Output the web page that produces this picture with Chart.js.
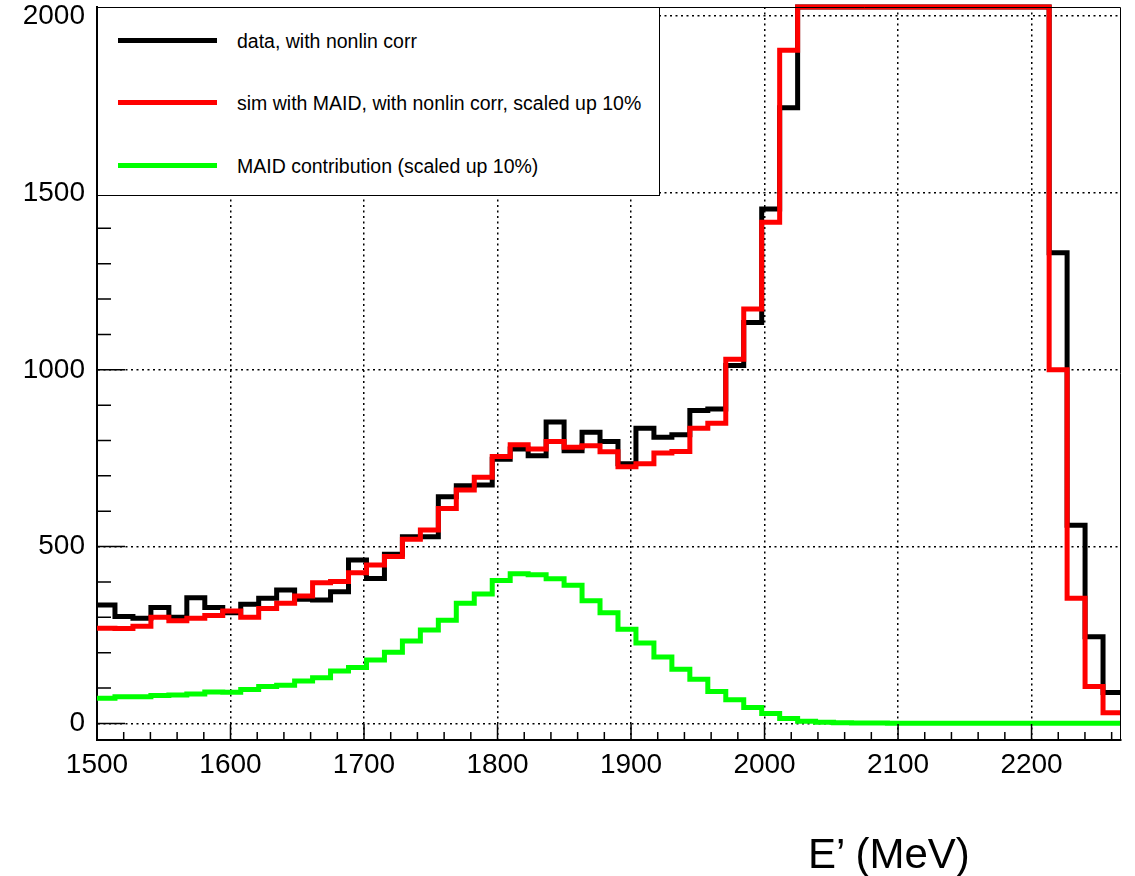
<!DOCTYPE html>
<html lang="en">
<head>
  <meta charset="UTF-8">
  <title>E' spectrum</title>
  <script src="https://cdn.jsdelivr.net/npm/chart.js"></script>
  <style>
    body { margin: 0; background: #fff; font-family: "Liberation Sans", Arial, sans-serif; }
    #wrap { position: relative; width: 1135px; height: 876px; }
    #legend { position: absolute; left: 97px; top: 7px; width: 563px; height: 189px;
              border: 1px solid #000; background: #fff; box-sizing: border-box; }
    .row { position: absolute; left: 0; height: 20px; width: 100%; font-size: 19.5px; line-height: 20px; }
    .row .line { position: absolute; left: 20px; top: 7px; width: 99px; height: 5px; }
    .row .txt { position: absolute; left: 139px; top: 0; white-space: nowrap; }
    #xtitle { position: absolute; left: 808px; top: 830px; font-size: 42px; white-space: nowrap; }
  </style>
</head>
<body>
  <div id="wrap">
    <canvas id="spectrum"></canvas>

    <!-- leyenda estilo ROOT -->
    <div id="legend">
      <div class="row" style="top: 23px;"><span class="line" style="background:#000"></span><span class="txt">data, with nonlin corr</span></div>
      <div class="row" style="top: 85px;"><span class="line" style="background:#ff0000"></span><span class="txt">sim with MAID, with nonlin corr, scaled up 10%</span></div>
      <div class="row" style="top: 148px;"><span class="line" style="background:#00ff00"></span><span class="txt">MAID contribution (scaled up 10%)</span></div>
    </div>
    <div id="xtitle">E’ (MeV)</div>
  </div>

  <script>
    // histogram binning (MeV)
    const xMin = 1500;
    const xMax = 2267;
    const nBins = 57;
    const yMin = -47;
    const yMax = 2026;

    const xTicks = [1500, 1600, 1700, 1800, 1900, 2000, 2100, 2200];
    const yTicks = [0, 500, 1000, 1500, 2000];

    // counts per bin (elastic peak bins go off the top)
    const dataCounts = [
      335, 302, 297, 328, 300, 355, 328, 313, 337, 354,
      377, 351, 349, 372, 462, 410, 478, 528, 528, 641,
      672, 674, 747, 776, 757, 852, 771, 823, 797, 734,
      835, 809, 816, 885, 889, 1012, 1134, 1455, 1741, 2600,
      4300, 6900, 9800, 12400, 13700, 13500, 12000, 9600, 7000, 4900,
      3300, 2400, 2150, 1331, 560, 245, 87
    ];
    const simCounts = [
      269, 268, 275, 300, 290, 297, 305, 318, 300, 325,
      340, 360, 398, 401, 426, 448, 472, 521, 547, 608,
      660, 696, 755, 788, 776, 797, 781, 785, 768, 726,
      734, 765, 769, 835, 849, 1030, 1172, 1417, 1904, 2700,
      4500, 7200, 10100, 12700, 13900, 13600, 12000, 9500, 6800, 4700,
      3100, 2300, 2100, 1000, 354, 104, 30
    ];
    const maidCounts = [
      71, 75, 75, 79, 80, 83, 89, 88, 96, 104,
      108, 120, 129, 148, 158, 179, 201, 233, 264, 292,
      340, 366, 404, 423, 420, 409, 391, 347, 313, 266,
      227, 188, 153, 125, 90, 67, 45, 28, 14, 6,
      3, 1.5, 1, 0.8, 0.6, 0.5, 0.4, 0.3, 0.3, 0.2,
      0.2, 0.1, 0.1, 0.1, 0.1, 0.1, 0.1
    ];

    const binWidth = (xMax - xMin) / nBins;

    // ROOT pinta los bins fuera de rango pegados al borde superior
    function toSteps(counts) {
      const pts = counts.map((c, i) => ({ x: xMin + i * binWidth, y: Math.min(c, yMax) }));
      pts.push({ x: xMax, y: Math.min(counts[counts.length - 1], yMax) });
      return pts;
    }

    function histDataset(label, counts, color, order) {
      return {
        label: label,
        data: toSteps(counts),
        borderColor: color,
        borderWidth: 5,
        stepped: true,
        pointRadius: 0,
        fill: false,
        order: order,
        clip: { left: 0, top: 3, right: 0, bottom: 0 },
      };
    }

    // ticks interiores y marco
    const rootFrame = {
      id: 'rootFrame',
      afterDatasetsDraw(chart) {
        const { ctx, chartArea: a, scales: { x, y } } = chart;
        ctx.save();
        ctx.strokeStyle = '#000';
        ctx.lineWidth = 1.5;
        ctx.beginPath();
        for (let v = xMin; v <= xMax; v += 20) {
          const px = x.getPixelForValue(v);
          const len = v % 100 === 0 ? 16 : 8;
          ctx.moveTo(px, a.bottom);
          ctx.lineTo(px, a.bottom - len);
        }
        for (let v = 0; v <= yMax; v += 100) {
          const py = y.getPixelForValue(v);
          const len = v % 500 === 0 ? 28 : 14;
          ctx.moveTo(a.left, py);
          ctx.lineTo(a.left + len, py);
        }
        ctx.stroke();
        ctx.lineWidth = 1;
        ctx.beginPath();
        ctx.moveTo(a.left, a.top + 0.5);
        ctx.lineTo(a.right - 0.5, a.top + 0.5);
        ctx.lineTo(a.right - 0.5, a.bottom);
        ctx.stroke();
        ctx.restore();
      }
    };

    const gridStyle = { color: '#000', lineWidth: 1.5, drawTicks: false };
    const borderStyle = { color: '#000', width: 2, dash: [2, 3.5] };
    const tickFont = { family: 'Liberation Sans, Arial, sans-serif', size: 28 };
    const plainLabel = v => String(v);

    const ctx = document.getElementById('spectrum').getContext('2d');
    const chart = new Chart(ctx, {
      type: 'line',
      data: {
        datasets: [
          histDataset('data, with nonlin corr', dataCounts, '#000000', 3),
          histDataset('sim with MAID, with nonlin corr, scaled up 10%', simCounts, '#ff0000', 2),
          histDataset('MAID contribution (scaled up 10%)', maidCounts, '#00ff00', 1),
        ]
      },
      options: {
        responsive: true,
        maintainAspectRatio: false,
        animation: false,
        layout: { padding: { top: 7, right: 14, left: 0, bottom: 0 } },
        plugins: { legend: { display: false }, tooltip: { enabled: false } },
        scales: {
          x: {
            type: 'linear',
            min: xMin,
            max: xMax,
            grid: gridStyle,
            border: borderStyle,
            ticks: { color: '#000', font: tickFont, padding: 8, maxRotation: 0, callback: plainLabel },
            afterBuildTicks: axis => { axis.ticks = xTicks.map(v => ({ value: v })); },
            afterFit: axis => { axis.height = 136; axis.paddingLeft = 0; axis.paddingRight = 0; },
          },
          y: {
            min: yMin,
            max: yMax,
            grid: gridStyle,
            border: borderStyle,
            ticks: { color: '#000', font: tickFont, padding: 12, callback: plainLabel },
            afterBuildTicks: axis => { axis.ticks = yTicks.map(v => ({ value: v })); },
            afterFit: axis => { axis.width = 97; axis.paddingTop = 0; axis.paddingBottom = 0; },
          },
        },
      },
      plugins: [rootFrame],
    });
  </script>
</body>
</html>
